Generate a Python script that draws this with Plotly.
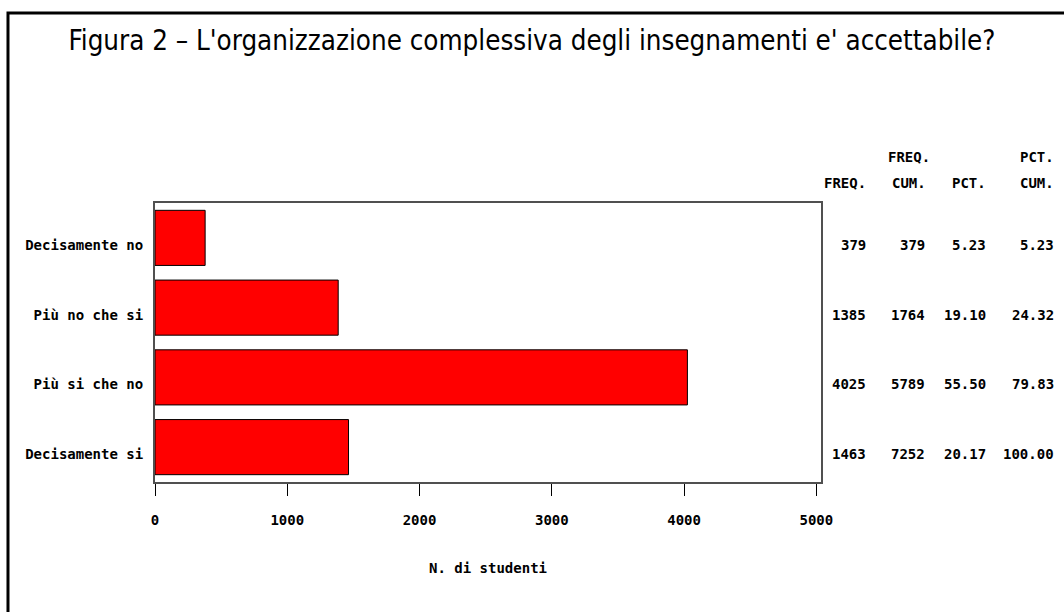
import plotly.graph_objects as go

categories = ["Decisamente no", "Più no che si", "Più si che no", "Decisamente si"]
freq = [379, 1385, 4025, 1463]
freq_cum = [379, 1764, 5789, 7252]
pct = ["5.23", "19.10", "55.50", "20.17"]
pct_cum = ["5.23", "24.32", "79.83", "100.00"]
x_ticks = [0, 1000, 2000, 3000, 4000, 5000]

MONO = "DejaVu Sans Mono, Liberation Mono, monospace"
TITLE_FONT = "Liberation Sans Narrow, DejaVu Sans Condensed, Arial, sans-serif"

# plot-area pixel geometry (used to convert layout positions to paper coords)
PL, PR, PT, PB = 155.7, 820.3, 203.0, 482.0
def px_x(px):
    return (px - PL) / (PR - PL)
def px_y(py):
    return (PB - py) / (PB - PT)

fig = go.Figure()
fig.add_trace(go.Bar(
    y=categories, x=freq, orientation="h",
    marker=dict(color="#ff0000", line=dict(color="#000000", width=1)),
    width=0.79, hoverinfo="x+y",
))

fig.update_layout(
    width=1064, height=612,
    margin=dict(l=int(PL), r=int(1064 - PR), t=int(PT), b=int(612 - PB), pad=0),
    paper_bgcolor="#ffffff", plot_bgcolor="#ffffff",
    showlegend=False,
    title=dict(
        text="Figura 2 – L'organizzazione complessiva degli insegnamenti e' accettabile?",
        x=0.5, xref="container", xanchor="center",
        y=1 - 40 / 612, yref="container", yanchor="middle",
        font=dict(family=TITLE_FONT, size=27.5, color="#000000", weight="normal"),
    ),
    font=dict(family=MONO, size=14, color="#000000"),
)

bold = dict(family=MONO, size=14, color="#000000", weight="bold")

fig.update_xaxes(
    range=[0, 5035], tickvals=x_ticks, ticktext=[str(v) for v in x_ticks],
    showgrid=False, zeroline=False,
    showline=True, linecolor="#505050", linewidth=2, mirror=True,
    ticks="outside", ticklen=12, tickcolor="#000000", tickwidth=1,
    tickfont=bold,
    ticklabelstandoff=12,
    title=dict(text="N. di studenti", standoff=36, font=bold),
)
fig.update_yaxes(
    categoryorder="array", categoryarray=categories, autorange="reversed",
    range=[3.5, -0.5],
    showgrid=False, zeroline=False,
    showline=True, linecolor="#505050", linewidth=2, mirror=True,
    ticks="", ticklabelstandoff=7, ticklabelshift=-7,
    tickfont=bold,
)

# table headers
col_right = [867, 926, 987, 1055]
row1 = ["", "FREQ.", "", "PCT."]
row2 = ["FREQ.", "CUM.", "PCT.", "CUM."]
for i in range(4):
    anchor = "center" if i == 1 else "right"
    xr = px_x(908.5) if i == 1 else px_x(col_right[i])
    if row1[i]:
        fig.add_annotation(text=row1[i], x=xr, y=px_y(157), xref="paper", yref="paper",
                           xanchor=anchor, yanchor="middle", showarrow=False, font=bold)
    fig.add_annotation(text=row2[i], x=xr, y=px_y(183), xref="paper", yref="paper",
                       xanchor=anchor, yanchor="middle", showarrow=False, font=bold)

# table values
for j, cat in enumerate(categories):
    vals = [str(freq[j]), str(freq_cum[j]), pct[j], pct_cum[j]]
    for i, v in enumerate(vals):
        fig.add_annotation(text=v, x=px_x(col_right[i]), y=cat, xref="paper", yref="y",
                           xanchor="right", yanchor="middle", yshift=-7,
                           showarrow=False, font=bold)

# outer frame
fig.add_shape(type="rect", xref="paper", yref="paper",
              x0=px_x(9), x1=px_x(1075), y0=px_y(625), y1=px_y(13),
              line=dict(color="#000000", width=3), fillcolor="rgba(0,0,0,0)", layer="above")

fig.write_html("out.html", config={"displayModeBar": False},
               post_script="document.body.style.margin='0';")
